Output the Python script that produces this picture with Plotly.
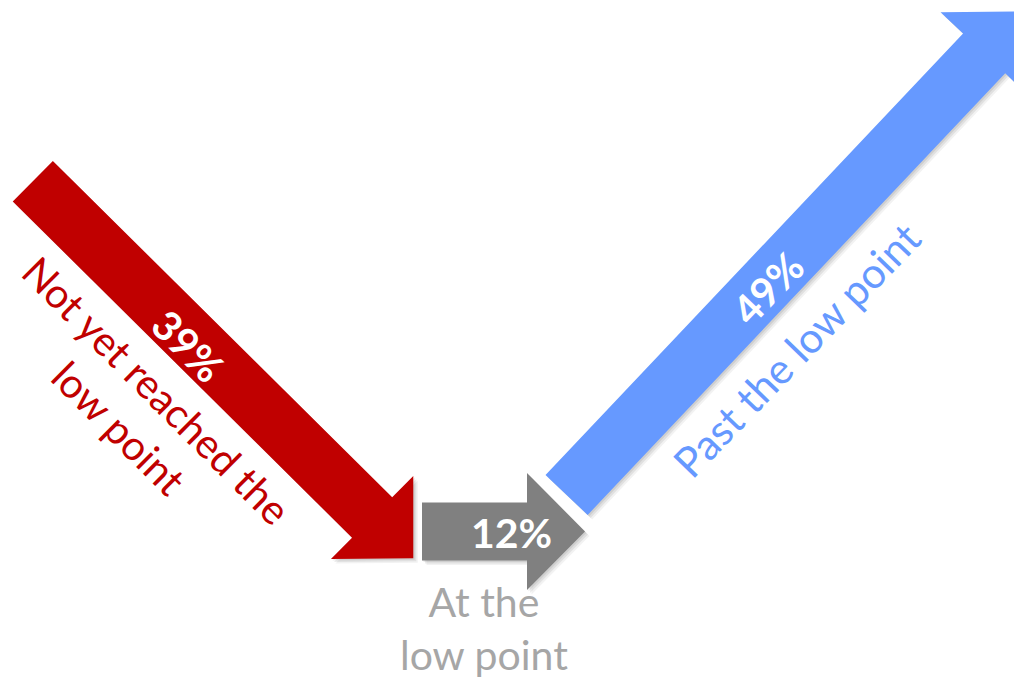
import math
import plotly.graph_objects as go

# ---- data ----
categories = ["Not yet reached the<br>low point", "At the<br>low point", "Past the low point"]
values = [39, 12, 49]
arrow_colors = ["#C00000", "#808080", "#6699FF"]
label_colors = ["#C00000", "#A6A6A6", "#6699FF"]

# ---- geometry (pixel space: x right, y down) ----
tails = [(32.8, 181.2), (422.0, 531.5), (566.6, 495.0)]
tips = [(413.3, 558.3), (585.0, 531.5), (1024.0, 11.3)]
shaft_w = [57, 58, 58]
head_w = [117, 117, 120]
head_len = [58, 58, 58]

value_pos = [(188, 345), (511, 532), (767, 288)]
value_angle = [45, 0, -46]
label_pos = [(138, 409), (484, 628), (796, 350)]
label_angle = [45, 0, -46]

W, H = 1014, 678


def arrow_path(tail, tip, sw, hw, hl, dx=0.0, dy=0.0):
    tx, ty = tail
    px, py = tip
    vx, vy = px - tx, py - ty
    L = math.hypot(vx, vy)
    ux, uy = vx / L, vy / L
    nx, ny = -uy, ux
    bx, by = px - ux * hl, py - uy * hl
    pts = [
        (tx + nx * sw / 2, ty + ny * sw / 2),
        (bx + nx * sw / 2, by + ny * sw / 2),
        (bx + nx * hw / 2, by + ny * hw / 2),
        (px, py),
        (bx - nx * hw / 2, by - ny * hw / 2),
        (bx - nx * sw / 2, by - ny * sw / 2),
        (tx - nx * sw / 2, ty - ny * sw / 2),
    ]
    return "M " + " L ".join(f"{x + dx:.2f},{y + dy:.2f}" for x, y in pts) + " Z"


shapes = []
for i in range(len(values)):
    # soft drop shadow
    for off, a in [(4.5, 0.05), (3.0, 0.07), (1.5, 0.08)]:
        shapes.append(dict(type="path", xref="x", yref="y",
                           path=arrow_path(tails[i], tips[i], shaft_w[i], head_w[i], head_len[i], off, off),
                           fillcolor=f"rgba(0,0,0,{a})", line=dict(width=0), layer="below"))
for i in range(len(values)):
    shapes.append(dict(type="path", xref="x", yref="y",
                       path=arrow_path(tails[i], tips[i], shaft_w[i], head_w[i], head_len[i]),
                       fillcolor=arrow_colors[i], line=dict(width=0), layer="below"))

annotations = []
label_sizes = [41, 41, 42]
for i, v in enumerate(values):
    annotations.append(dict(x=value_pos[i][0], y=value_pos[i][1], xref="x", yref="y",
                            text=f"<b>{v}%</b>", showarrow=False, textangle=value_angle[i],
                            xanchor="center", yanchor="middle",
                            font=dict(family="Lato", size=41, color="white")))
    annotations.append(dict(x=label_pos[i][0], y=label_pos[i][1], xref="x", yref="y",
                            text=categories[i], showarrow=False, textangle=label_angle[i],
                            xanchor="center", yanchor="middle", align="center",
                            font=dict(family="Lato", size=label_sizes[i], color=label_colors[i])))

fig = go.Figure()
fig.add_trace(go.Scatter(x=[0, W], y=[0, H], mode="markers", marker=dict(opacity=0),
                         hoverinfo="skip", showlegend=False))
fig.update_layout(
    width=W, height=H, margin=dict(l=0, r=0, t=0, b=0),
    paper_bgcolor="white", plot_bgcolor="white",
    xaxis=dict(range=[0, W], visible=False, fixedrange=True),
    yaxis=dict(range=[H, 0], visible=False, fixedrange=True),
    shapes=shapes, annotations=annotations, showlegend=False,
)
fig.write_html(
    "out.html",
    config={"displayModeBar": False},
    post_script="document.body.style.margin='0';document.body.style.overflow='hidden';",
)
